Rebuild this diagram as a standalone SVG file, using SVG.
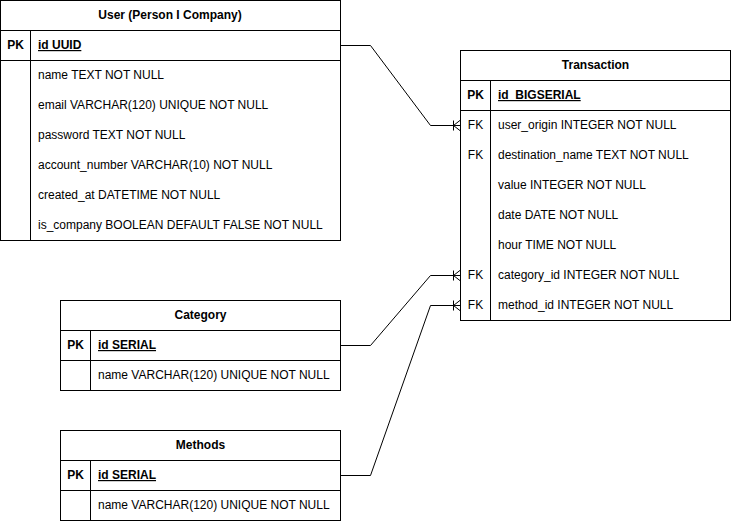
<svg xmlns="http://www.w3.org/2000/svg" width="731" height="521" viewBox="0 0 731 521">
<style>
text{font-family:"Liberation Sans",Arial,Helvetica,sans-serif;font-size:12px;fill:#000}
.h{font-weight:bold;text-anchor:middle}
.k{text-anchor:middle}
.b{font-weight:bold}
.u{font-weight:bold;text-decoration:underline}
.box{fill:#fff;stroke:#000;stroke-width:1}
.ln{fill:none;stroke:#000;stroke-width:1}
</style>
<defs>
<marker id="many" markerUnits="userSpaceOnUse" markerWidth="12" markerHeight="14" refX="10" refY="7" orient="auto" overflow="visible">
<path d="M3,2V12M3,7L10,1.5M3,7L10,12.5M3,7H10" fill="none" stroke="#000" stroke-width="1"/>
</marker>
</defs>
<rect width="731" height="521" fill="#fff"/>
<g id="user">
<rect class="box" x="0.5" y="0.5" width="340" height="240"/>
<path class="ln" d="M0.5,30.5H340.5M0.5,60.5H340.5M30.5,30.5V240.5"/>
<text class="h" x="170" y="19">User (Person I Company)</text>
<text class="k b" x="15.5" y="49">PK</text>
<text class="u" x="38" y="49">id UUID</text>
<text x="38" y="79">name TEXT NOT NULL</text>
<text x="38" y="109">email VARCHAR(120) UNIQUE NOT NULL</text>
<text x="38" y="139">password TEXT NOT NULL</text>
<text x="38" y="169">account_number VARCHAR(10) NOT NULL</text>
<text x="38" y="199">created_at DATETIME NOT NULL</text>
<text x="38" y="229">is_company BOOLEAN DEFAULT FALSE NOT NULL</text>
</g>
<g id="transaction">
<rect class="box" x="460.5" y="50.5" width="270" height="270"/>
<path class="ln" d="M460.5,80.5H730.5M460.5,110.5H730.5M490.5,80.5V320.5"/>
<text class="h" x="595.5" y="69">Transaction</text>
<text class="k b" x="475.5" y="99">PK</text>
<text class="u" x="498" y="99">id_BIGSERIAL</text>
<text class="k" x="475.5" y="129">FK</text>
<text x="498" y="129">user_origin INTEGER NOT NULL</text>
<text class="k" x="475.5" y="159">FK</text>
<text x="498" y="159">destination_name TEXT NOT NULL</text>
<text x="498" y="189">value INTEGER NOT NULL</text>
<text x="498" y="219">date DATE NOT NULL</text>
<text x="498" y="249">hour TIME NOT NULL</text>
<text class="k" x="475.5" y="279">FK</text>
<text x="498" y="279">category_id INTEGER NOT NULL</text>
<text class="k" x="475.5" y="309">FK</text>
<text x="498" y="309">method_id INTEGER NOT NULL</text>
</g>
<g id="category">
<rect class="box" x="60.5" y="300.5" width="280" height="90"/>
<path class="ln" d="M60.5,330.5H340.5M60.5,360.5H340.5M90.5,330.5V390.5"/>
<text class="h" x="200.5" y="319">Category</text>
<text class="k b" x="75.5" y="349">PK</text>
<text class="u" x="98" y="349">id SERIAL</text>
<text x="98" y="379">name VARCHAR(120) UNIQUE NOT NULL</text>
</g>
<g id="methods">
<rect class="box" x="60.5" y="430.5" width="280" height="90"/>
<path class="ln" d="M60.5,460.5H340.5M60.5,490.5H340.5M90.5,460.5V520.5"/>
<text class="h" x="200.5" y="449">Methods</text>
<text class="k b" x="75.5" y="479">PK</text>
<text class="u" x="98" y="479">id SERIAL</text>
<text x="98" y="509">name VARCHAR(120) UNIQUE NOT NULL</text>
</g>
<g id="connectors">
<path class="ln" d="M340.5,45.5H370.5L430.5,125.5H460.5" marker-end="url(#many)"/>
<path class="ln" d="M340.5,345.5H370.5L430.5,275.5H460.5" marker-end="url(#many)"/>
<path class="ln" d="M340.5,475.5H370.5L430.5,305.5H460.5" marker-end="url(#many)"/>
</g>
</svg>
